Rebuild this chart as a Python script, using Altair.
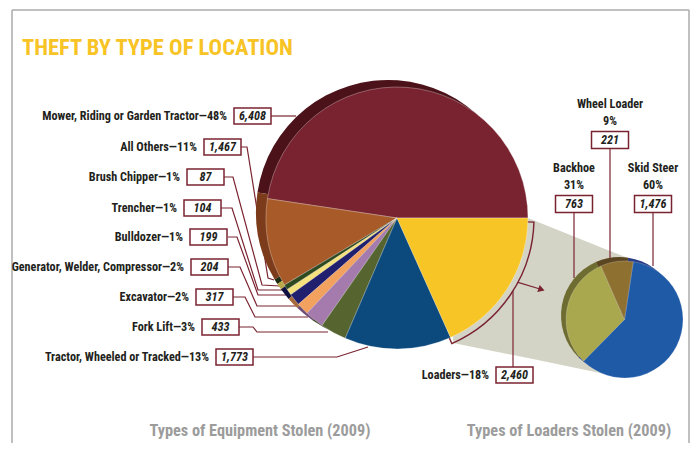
import math
import altair as alt
import pandas as pd

# ---------------- data ----------------
eq_names = ["Mower, Riding or Garden Tractor", "All Others", "Brush Chipper", "Trencher",
            "Bulldozer", "Generator, Welder, Compressor", "Excavator", "Fork Lift",
            "Tractor, Wheeled or Tracked", "Loaders"]
eq_pct = [48, 11, 1, 1, 1, 2, 2, 3, 13, 18]
eq_counts = [6408, 1467, 87, 104, 199, 204, 317, 433, 1773, 2460]

ld_names = ["Skid Steer", "Backhoe", "Wheel Loader"]
ld_pct = [60, 31, 9]
ld_counts = [1476, 763, 221]

title_text = "THEFT BY TYPE OF LOCATION"
caption_left = "Types of Equipment Stolen (2009)"
caption_right = "Types of Loaders Stolen (2009)"

# ---------------- styles ----------------
eq_colors = ["#7A2330", "#A85A28", "#2F4A1F", "#F6E27C", "#20206E", "#F3A15E",
             "#A57BAE", "#56652F", "#0C4A7D", "#F8C526"]
eq_shadow = ["#4B1219", "#7C3B1B", "#1C2C12", "#B8A848", "#101040", "#A86A38",
             "#6E4E74", "#36401C", "#072E50", "#C09418"]
ld_colors = ["#1F5AA7", "#AAA84F", "#8E7031"]
ld_shadow = ["#2A3D86", "#6E6C31", "#5B4621"]
MAROON = "#7A2330"
TXT = "#231F20"
FONT = "'Roboto Condensed', 'Open Sans Condensed', 'DejaVu Sans Condensed', sans-serif"

# ---------------- layout (page pixels) ----------------
W, H, OFF = 682, 435, 8
MCX, MCY, MR = 397, 218, 131          # main pie
MSX, MSY, MSR = -9, -6, 132           # main pie shadow offset / radius
SCX, SCY, SR = 624.5, 319.5, 58.5     # loaders pie
SSX, SSY = -5, -4
FS = 12.2

xs = alt.Scale(domain=[OFF, OFF + W], range=[0, W], nice=False, zero=False)
ys = alt.Scale(domain=[OFF, OFF + H], range=[0, H], nice=False, zero=False)


def X(f):
    return alt.X(f, type="quantitative", scale=xs, axis=None)


def Y(f):
    return alt.Y(f, type="quantitative", scale=ys, axis=None)


layers = []

# frame
frame_df = pd.DataFrame({"x": [12, 12, 689], "x2": [689, 12, 689],
                         "y": [10, 10, 10], "y2": [10, H + OFF, H + OFF]})
layers.append(alt.Chart(frame_df).mark_rule(color="#ABABAB", strokeWidth=1.5).encode(
    x=X("x"), x2="x2:Q", y=Y("y"), y2="y2:Q"))

# title
layers.append(alt.Chart(pd.DataFrame({"t": [title_text], "x": [22], "y": [55]})).mark_text(
    align="left", baseline="alphabetic", font=FONT, fontSize=22.5, fontWeight="bold",
    color="#F7C325").encode(x=X("x"), y=Y("y"), text="t:N"))

# connector band (main loaders slice -> loaders pie)
tot = sum(eq_counts)
a0 = math.pi / 2
a1 = a0 + 2 * math.pi * eq_counts[-1] / tot
bx = MCX + (MR + 6) * math.sin(a1)
by = MCY - (MR + 6) * math.cos(a1)
conn_df = pd.DataFrame({"x": [bx, MCX + MR, 605, 628],
                        "y": [MCY, MCY, 249, 258],
                        "y2": [by, 358, 374, 258]})
layers.append(alt.Chart(conn_df).mark_area(color="#D4D4C6", orient="vertical").encode(
    x=X("x"), y=Y("y"), y2="y2:Q"))

# bracket around loaders slice
layers.append(alt.Chart(pd.DataFrame({"k": [0]})).mark_arc(
    theta=a0 + 0.03, theta2=a1 + 0.01, innerRadius=110, outerRadius=MR + 6,
    filled=False, stroke=MAROON, strokeWidth=1.4).encode(
    x=alt.value(MCX - OFF), y=alt.value(MCY - OFF)))

# leader lines
main_paths = [
    [(270, 116), (296, 116)],
    [(240, 147), (247, 147), (268, 278), (274, 280)],
    [(224, 177), (233, 177), (262, 285), (280, 286)],
    [(221, 208), (232, 208), (258, 290), (284, 290)],
    [(228, 237), (237, 237), (258, 295), (289, 295)],
    [(228, 267), (240, 267), (257, 306), (298, 306)],
    [(233, 297), (245, 297), (255, 317), (308, 317)],
    [(239, 327), (253, 327), (257, 332), (328, 332)],
    [(253, 357), (337, 357), (368, 347)],
]
arr_ang = math.radians(118)
ax0 = MCX + (MR + 6) * math.sin(arr_ang)
ay0 = MCY - (MR + 6) * math.cos(arr_ang)
lx = 513
ly0 = MCY - (MR + 6) * math.cos(math.pi - math.asin((lx - MCX) / (MR + 6)))
extra_paths = [
    [(ax0, ay0), (540, 289)],
    [(lx, ly0), (lx, 367)],
    [(610, 148), (610, 258)],
    [(574, 212), (574, 278)],
    [(653, 212), (653, 266)],
]
rows = []
for i, p in enumerate(main_paths + extra_paths):
    for j, (px, py) in enumerate(p):
        rows.append({"id": i, "seq": j, "x": px, "y": py})
lead_df = pd.DataFrame(rows)
layers.append(alt.Chart(lead_df).mark_line(color=MAROON, strokeWidth=1.2).encode(
    x=X("x"), y=Y("y"), detail="id:N", order="seq:Q"))

# arrow head
layers.append(alt.Chart(pd.DataFrame({"x": [541.5], "y": [289.5]})).mark_point(
    shape="triangle-right", filled=True, color=MAROON, opacity=1, size=55, angle=19).encode(
    x=X("x"), y=Y("y")))

# main pie
eq_df = pd.DataFrame({"name": eq_names, "count": eq_counts, "fill": eq_colors,
                      "shade": eq_shadow, "ord": list(range(len(eq_names)))[::-1]})
theta_main = alt.Theta("count:Q", stack=True,
                       scale=alt.Scale(range=[math.pi / 2, math.pi / 2 + 2 * math.pi]))
layers.append(alt.Chart(eq_df).mark_arc(radius=MSR).encode(
    theta=theta_main, order=alt.Order("ord:Q"), color=alt.Color("shade:N", scale=None),
    x=alt.value(MCX + MSX - OFF), y=alt.value(MCY + MSY - OFF)))
layers.append(alt.Chart(eq_df).mark_arc(radius=MR, stroke="#FFFFFF", strokeWidth=0.6,
                                        strokeOpacity=0.5).encode(
    theta=theta_main, order=alt.Order("ord:Q"), color=alt.Color("fill:N", scale=None),
    x=alt.value(MCX - OFF), y=alt.value(MCY - OFF)))

# loaders pie
ld_df = pd.DataFrame({"name": ld_names, "count": ld_counts, "fill": ld_colors,
                      "shade": ld_shadow, "ord": [0, 1, 2]})
st = 0.15
theta_ld = alt.Theta("count:Q", stack=True, scale=alt.Scale(range=[st, st + 2 * math.pi]))
layers.append(alt.Chart(ld_df).mark_arc(radius=SR).encode(
    theta=theta_ld, order=alt.Order("ord:Q"), color=alt.Color("shade:N", scale=None),
    x=alt.value(SCX + SSX - OFF), y=alt.value(SCY + SSY - OFF)))
layers.append(alt.Chart(ld_df).mark_arc(radius=SR, stroke="#FFFFFF", strokeWidth=0.5,
                                        strokeOpacity=0.4).encode(
    theta=theta_ld, order=alt.Order("ord:Q"), color=alt.Color("fill:N", scale=None),
    x=alt.value(SCX - OFF), y=alt.value(SCY - OFF)))

# labels for main pie
row_y = [116, 147, 177, 208, 237, 267, 297, 327, 357, 375]
text_r = [227, 197, 180, 177, 183, 184, 189, 195, 209, 489]
lab = [f"{n}\u2014{p}%" for n, p in zip(eq_names, eq_pct)]
BW, BH = 37, 16
lab_df = pd.DataFrame({"label": lab, "x": text_r, "y": row_y,
                       "bx": [t + 7 for t in text_r],
                       "bx2": [t + 7 + BW for t in text_r],
                       "bxm": [t + 7 + BW / 2 for t in text_r],
                       "by": [y - BH / 2 for y in row_y],
                       "by2": [y + BH / 2 for y in row_y],
                       "val": [f"{c:,}" for c in eq_counts]})
layers.append(alt.Chart(lab_df).mark_text(
    align="right", baseline="middle", font=FONT, fontSize=FS, fontWeight="bold",
    color=TXT).encode(x=X("x"), y=Y("y"), text="label:N"))
layers.append(alt.Chart(lab_df).mark_rect(fill="#FFFFFF", stroke=MAROON, strokeWidth=1.5).encode(
    x=X("bx"), x2="bx2:Q", y=Y("by"), y2="by2:Q"))
layers.append(alt.Chart(lab_df).mark_text(
    align="center", baseline="middle", font=FONT, fontSize=FS, fontWeight="bold",
    fontStyle="italic", color=TXT).encode(x=X("bxm"), y=Y("y"), text="val:N"))

# labels for loaders pie
lcx = [653, 574, 610]
lny = [168, 168, 104]
ld_lab = pd.DataFrame({"name": ld_names, "pct": [f"{p}%" for p in ld_pct],
                       "val": [f"{c:,}" for c in ld_counts], "x": lcx, "ny": lny,
                       "py": [y + 17 for y in lny], "vy": [y + 36 for y in lny],
                       "bx": [x - BW / 2 for x in lcx], "bx2": [x + BW / 2 for x in lcx],
                       "by": [y + 36 - 8.5 for y in lny], "by2": [y + 36 + 8.5 for y in lny]})
layers.append(alt.Chart(ld_lab).mark_text(
    align="center", baseline="middle", font=FONT, fontSize=FS, fontWeight="bold",
    color=TXT).encode(x=X("x"), y=Y("ny"), text="name:N"))
layers.append(alt.Chart(ld_lab).mark_text(
    align="center", baseline="middle", font=FONT, fontSize=FS, fontWeight="bold",
    color=TXT).encode(x=X("x"), y=Y("py"), text="pct:N"))
layers.append(alt.Chart(ld_lab).mark_rect(fill="#FFFFFF", stroke=MAROON, strokeWidth=1.5).encode(
    x=X("bx"), x2="bx2:Q", y=Y("by"), y2="by2:Q"))
layers.append(alt.Chart(ld_lab).mark_text(
    align="center", baseline="middle", font=FONT, fontSize=FS, fontWeight="bold",
    fontStyle="italic", color=TXT).encode(x=X("x"), y=Y("vy"), text="val:N"))

# captions
cap_df = pd.DataFrame({"t": [caption_left, caption_right], "x": [260, 569], "y": [431, 431]})
layers.append(alt.Chart(cap_df).mark_text(
    align="center", baseline="middle", font=FONT, fontSize=16.3, fontWeight="bold",
    color="#9C9C9C").encode(x=X("x"), y=Y("y"), text="t:N"))

chart = alt.layer(*layers).resolve_scale(theta="independent").properties(
    width=W, height=H, padding=0, autosize="none", background="#FFFFFF"
).configure_view(stroke=None)

chart.save("out.html", embed_options={"renderer": "svg", "actions": False})
